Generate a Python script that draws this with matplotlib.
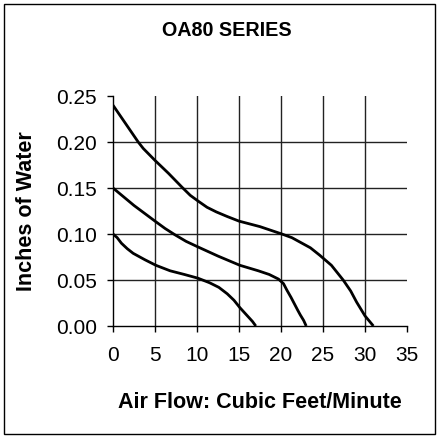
import matplotlib
matplotlib.use("Agg")
import matplotlib.pyplot as plt
from matplotlib.patches import Rectangle

plt.rcParams["font.family"] = ["Liberation Sans", "DejaVu Sans"]

# ---------------------------------------------------------------------------
# Data
# ---------------------------------------------------------------------------

# upper fan curve
high_cfm = [0, 1.5, 3.0, 3.6, 5.0, 6.6, 8.2, 9.2, 10.1, 11.2, 12.3, 13.6, 15.0, 17.5, 20.1, 21.3, 22.3,
            23.5, 24.6, 26.0, 27.4, 28.3, 29.0, 30.0, 31.0]
high_wc = [0.240, 0.220, 0.200, 0.193, 0.180, 0.166, 0.151, 0.142, 0.136, 0.129, 0.124, 0.119, 0.114,
           0.108, 0.100, 0.096, 0.091, 0.085, 0.077, 0.066, 0.050, 0.038, 0.026, 0.011, 0.000]

# middle fan curve
mid_cfm = [0, 2.5, 5.0, 6.2, 7.4, 8.7, 10.1, 12.5, 15.1, 17.3, 18.6, 19.7, 20.3, 20.7, 21.2, 21.6,
           22.0, 22.3, 22.7, 23.0]
mid_wc = [0.150, 0.131, 0.114, 0.106, 0.099, 0.092, 0.086, 0.076, 0.066, 0.060, 0.056, 0.051, 0.046,
          0.039, 0.031, 0.024, 0.017, 0.012, 0.006, 0.000]

# lower fan curve
low_cfm = [0, 0.5, 1.0, 1.7, 2.4, 3.8, 5.1, 6.8, 8.5, 10.1, 11.5, 12.6, 13.6, 14.4, 15.1, 15.6, 16.1,
           16.6, 17.0]
low_wc = [0.100, 0.096, 0.090, 0.084, 0.079, 0.072, 0.066, 0.060, 0.056, 0.052, 0.047, 0.042, 0.035,
          0.028, 0.020, 0.015, 0.010, 0.005, 0.000]

x_ticks = [0, 5, 10, 15, 20, 25, 30, 35]
y_ticks = [0.00, 0.05, 0.10, 0.15, 0.20, 0.25]


def main():
    fig = plt.figure(figsize=(4.38, 4.37), dpi=100)
    ax = fig.add_axes([113 / 438, 111 / 437, 294 / 438, 230 / 437])

    for xs, ys in [(high_cfm, high_wc), (mid_cfm, mid_wc), (low_cfm, low_wc)]:
        ax.plot(xs, ys, color="black", linewidth=2.0, solid_capstyle="butt",
                solid_joinstyle="round", zorder=3)

    ax.set_xlim(0, 35)
    ax.set_ylim(0, 0.25)
    ax.set_xticks(x_ticks)
    ax.set_yticks(y_ticks)
    ax.set_yticklabels([f"{v:.2f}" for v in y_ticks])

    ax.grid(True, color="#222222", linewidth=1.0)
    # Excel-style: no gridline on the outer edges
    ax.xaxis.get_gridlines()[0].set_visible(False)
    ax.xaxis.get_gridlines()[-1].set_visible(False)
    ax.yaxis.get_gridlines()[0].set_visible(False)
    ax.yaxis.get_gridlines()[-1].set_visible(False)
    ax.set_axisbelow(True)

    for side in ["top", "right"]:
        ax.spines[side].set_visible(False)
    for side in ["left", "bottom"]:
        ax.spines[side].set_linewidth(1.0)
        ax.spines[side].set_color("black")

    ax.tick_params(axis="both", direction="out", length=4.5, width=1.0, labelsize=15)
    ax.tick_params(axis="x", pad=10)
    ax.tick_params(axis="y", pad=7)

    ax.set_xlabel("Air Flow: Cubic Feet/Minute", fontsize=15.5, fontweight="bold", labelpad=19)
    ax.set_ylabel("Inches of Water", fontsize=15.5, fontweight="bold", labelpad=14)

    fig.text(227 / 438, 1 - 31 / 437, "OA80 SERIES", ha="center", va="center",
             fontsize=14.2, fontweight="bold")

    # frame around the whole chart
    fig.patches.append(Rectangle((4 / 438, 3 / 437), 431 / 438, 430 / 437,
                                 transform=fig.transFigure, fill=False,
                                 edgecolor="black", linewidth=1.0))

    fig.savefig("out.png", dpi=100)
    plt.close(fig)


if __name__ == "__main__":
    main()
